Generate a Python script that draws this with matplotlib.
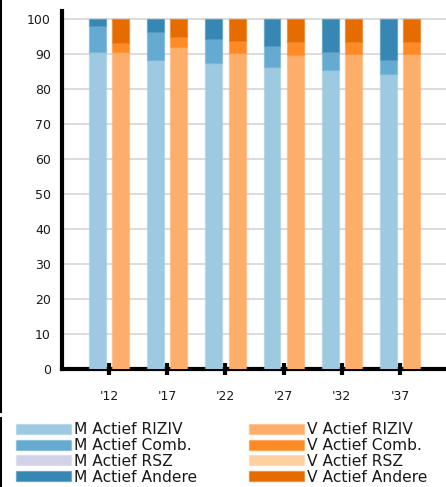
import numpy as np
import matplotlib
matplotlib.use("Agg")
import matplotlib.pyplot as plt
from matplotlib.patches import Rectangle
from matplotlib.lines import Line2D

plt.rcParams['font.family'] = ['DejaVu Sans']

years = ["'12", "'17", "'22", "'27", "'32", "'37"]

# mannen (M) en vrouwen (V), aandeel in %
m_riziv = [90.7, 88.3, 87.4, 86.3, 85.4, 84.3]
m_comb = [7.4, 7.9, 6.9, 6.1, 5.2, 4.0]
m_rsz = [0, 0, 0, 0, 0, 0]
m_andere = [1.9, 3.8, 5.7, 7.6, 9.4, 11.7]

v_riziv = [90.7, 91.9, 90.3, 89.8, 90.1, 90.1]
v_comb = [2.5, 2.9, 3.3, 3.5, 3.4, 3.4]
v_rsz = [0, 0, 0, 0, 0, 0]
v_andere = [6.8, 5.2, 6.4, 6.7, 6.5, 6.5]

m_names = ['M Actief RIZIV', 'M Actief Comb.', 'M Actief RSZ', 'M Actief Andere']
v_names = ['V Actief RIZIV', 'V Actief Comb.', 'V Actief RSZ', 'V Actief Andere']
m_colors = ['#9ecae1', '#65aad1', '#d2d2e8', '#3787b4']
v_colors = ['#fdae6b', '#fd8a24', '#fdd0a2', '#e66c00']

fig = plt.figure(figsize=(4.46, 4.87), dpi=100)
ax = fig.add_axes([62 / 446, 1 - 369 / 487, 1 - 62 / 446, (369 - 11) / 487])

x = np.arange(len(years))
w = 0.29
off = 0.2


def stack(xpos, series, colors):
    bottom = np.zeros(len(xpos))
    for vals, c in zip(series, colors):
        vals = np.array(vals, dtype=float)
        ax.bar(xpos, vals, w, bottom=bottom, color=c,
               edgecolor=matplotlib.colors.to_rgba(c, 0.45), linewidth=1, zorder=3)
        bottom += vals


stack(x - off, [m_riziv, m_comb, m_rsz, m_andere], m_colors)
stack(x + off, [v_riziv, v_comb, v_rsz, v_andere], v_colors)

ax.set_xlim(-0.808, 5.79)
ax.set_ylim(0, 102.3)
ax.set_yticks(np.arange(0, 101, 10))
ax.set_xticks(x)
ax.set_xticklabels(years)
ax.yaxis.grid(True, color='#d9d9d9', linewidth=1.3, zorder=0)
ax.set_axisbelow(True)

for s in ['top', 'right']:
    ax.spines[s].set_visible(False)
ax.spines['left'].set_linewidth(3)
ax.spines['bottom'].set_linewidth(3)
ax.tick_params(axis='y', length=0, pad=8, labelsize=9, colors='#1a1a1a')
ax.tick_params(axis='x', direction='inout', length=8, width=3, pad=11,
               labelsize=9, colors='black', labelcolor='#1a1a1a')

# legenda onderaan, twee kolommen
rows = [429, 445, 460, 476]
for i in range(4):
    for px, names, cols in [(16, m_names, m_colors), (249, v_names, v_colors)]:
        y = rows[i]
        fig.patches.append(Rectangle((px / 446, 1 - (y + 5) / 487), 55 / 446, 10 / 487,
                                     transform=fig.transFigure, facecolor=cols[i],
                                     edgecolor=matplotlib.colors.to_rgba(cols[i], 0.45),
                                     linewidth=1))
        fig.text((px + 58) / 446, 1 - (y + 1) / 487, names[i], fontsize=11.2,
                 va='center', ha='left', color='#1a1a1a')

# kaderlijn links
fig.add_artist(Line2D([0.5 / 446, 0.5 / 446], [1, 1 - 412 / 487], color='black', linewidth=1.5,
                      transform=fig.transFigure))
fig.add_artist(Line2D([0.5 / 446, 0.5 / 446], [1 - 418 / 487, 0], color='black', linewidth=1.5,
                      transform=fig.transFigure))

fig.savefig('out.png', dpi=100)
